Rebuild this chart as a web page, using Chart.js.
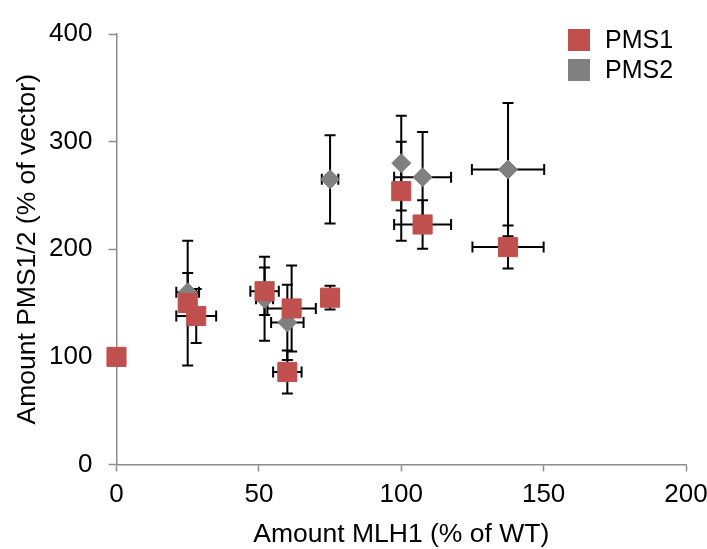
<!DOCTYPE html>
<html>
<head>
<meta charset="utf-8">
<script src="https://cdn.jsdelivr.net/npm/chart.js@4/dist/chart.umd.min.js"></script>
<style>
  html, body { margin: 0; padding: 0; background: #fff; overflow: hidden; }
  #wrap { width: 707px; height: 549px; }
</style>
</head>
<body>
<div id="wrap"><canvas id="chart"></canvas></div>
<script>
// Data
const pms1X    = [0, 25, 28, 52, 61.5, 60, 75, 100, 107.5, 137.5];
const pms1Y    = [100, 150, 138, 161, 145, 86, 155, 254, 223, 202];
const pms1XErr = [0, 2, 7, 5, 8.5, 5, 2, 0, 10, 12.5];
const pms1YErr = [0, 58, 25, 22, 40, 20, 11, 46, 22.5, 20];

const pms2X    = [25, 52, 60, 75, 100, 107.5, 137.5];
const pms2Y    = [160, 154, 132, 265, 280, 267, 274];
const pms2XErr = [4, 3, 5.7, 2.9, 0, 10, 12.7];
const pms2YErr = [18, 39, 35, 41, 44, 42, 62];

const xTicks = [0, 50, 100, 150, 200];
const yTicks = [0, 100, 200, 300, 400];

const axisGray = '#8c8c8c';
Chart.defaults.font.family = '"Liberation Sans", Arial, sans-serif';
Chart.defaults.color = '#000';

function toPoints(xs, ys) {
    return xs.map((x, i) => ({ x: x, y: ys[i] }));
}

// Draw x/y error bars under the markers
const errorBars = {
    id: 'errorBars',
    beforeDatasetsDraw(chart) {
        const ctx = chart.ctx;
        const xs = chart.scales.x, ys = chart.scales.y;
        const cap = 5.5;
        ctx.save();
        ctx.strokeStyle = '#000';
        ctx.lineWidth = 2;
        chart.data.datasets.forEach(ds => {
            ds.data.forEach((p, i) => {
                const cx = xs.getPixelForValue(p.x);
                const cy = ys.getPixelForValue(p.y);
                const ex = ds.errX[i], ey = ds.errY[i];
                ctx.beginPath();
                if (ey > 0) {
                    const t = ys.getPixelForValue(p.y + ey);
                    const b = ys.getPixelForValue(p.y - ey);
                    ctx.moveTo(cx, t); ctx.lineTo(cx, b);
                    ctx.moveTo(cx - cap, t); ctx.lineTo(cx + cap, t);
                    ctx.moveTo(cx - cap, b); ctx.lineTo(cx + cap, b);
                }
                if (ex > 0) {
                    const l = xs.getPixelForValue(p.x - ex);
                    const r = xs.getPixelForValue(p.x + ex);
                    ctx.moveTo(l, cy); ctx.lineTo(r, cy);
                    ctx.moveTo(l, cy - cap); ctx.lineTo(l, cy + cap);
                    ctx.moveTo(r, cy - cap); ctx.lineTo(r, cy + cap);
                }
                ctx.stroke();
            });
        });
        ctx.restore();
    }
};

// Legend in the top right corner
const legendBox = {
    id: 'legendBox',
    afterDraw(chart) {
        const ctx = chart.ctx;
        ctx.save();
        chart.data.datasets.forEach((ds, i) => {
            const top = 29 + i * 30;
            ctx.fillStyle = ds.backgroundColor;
            ctx.fillRect(568, top, 22, 22);
            ctx.fillStyle = '#000';
            ctx.font = '25px "Liberation Sans", Arial, sans-serif';
            ctx.textBaseline = 'middle';
            ctx.textAlign = 'left';
            ctx.fillText(ds.label, 605, top + 12);
        });
        ctx.restore();
    }
};

new Chart(document.getElementById('chart'), {
    type: 'scatter',
    data: {
        datasets: [
            {
                label: 'PMS1',
                data: toPoints(pms1X, pms1Y),
                errX: pms1XErr,
                errY: pms1YErr,
                pointStyle: 'rect',
                pointRadius: 13.5,
                backgroundColor: '#C0504D',
                borderColor: '#C0504D',
                borderWidth: 1,
                clip: false,
                order: 0
            },
            {
                label: 'PMS2',
                data: toPoints(pms2X, pms2Y),
                errX: pms2XErr,
                errY: pms2YErr,
                pointStyle: 'rectRot',
                pointRadius: 9.5,
                backgroundColor: '#808080',
                borderColor: '#808080',
                borderWidth: 1,
                clip: false,
                order: 1
            }
        ]
    },
    options: {
        responsive: true,
        maintainAspectRatio: false,
        animation: false,
        events: [],
        layout: { padding: { top: 34, right: 21, left: 0, bottom: 0 } },
        plugins: {
            legend: { display: false },
            tooltip: { enabled: false }
        },
        scales: {
            x: {
                type: 'linear',
                min: xTicks[0],
                max: xTicks[xTicks.length - 1],
                afterBuildTicks(s) { s.ticks = xTicks.map(v => ({ value: v })); },
                ticks: { font: { size: 26 }, padding: 8, maxRotation: 0, autoSkip: false },
                grid: { drawOnChartArea: false, drawTicks: true, tickLength: 7, tickColor: axisGray, tickWidth: 1.5 },
                border: { color: axisGray, width: 1.5 },
                title: {
                    display: true,
                    text: 'Amount MLH1 (% of WT)',
                    font: { size: 26.5, lineHeight: 1 },
                    padding: { top: 0, bottom: 1 }
                },
                afterFit(s) {
                    s.height = 549 - 464.5;
                    s.paddingRight = 0;
                    s.paddingLeft = 0;
                }
            },
            y: {
                type: 'linear',
                min: yTicks[0],
                max: yTicks[yTicks.length - 1],
                afterBuildTicks(s) { s.ticks = yTicks.map(v => ({ value: v })); },
                ticks: { font: { size: 26 }, padding: 16 },
                grid: { drawOnChartArea: false, drawTicks: true, tickLength: 8, tickColor: axisGray, tickWidth: 1.5 },
                border: { color: axisGray, width: 1.5 },
                title: {
                    display: true,
                    text: 'Amount PMS1/2 (% of vector)',
                    font: { size: 26.5 },
                    padding: { top: 12.1, bottom: 0 }
                },
                afterFit(s) { s.width = 116.5; }
            }
        }
    },
    plugins: [errorBars, legendBox]
});
</script>
</body>
</html>
